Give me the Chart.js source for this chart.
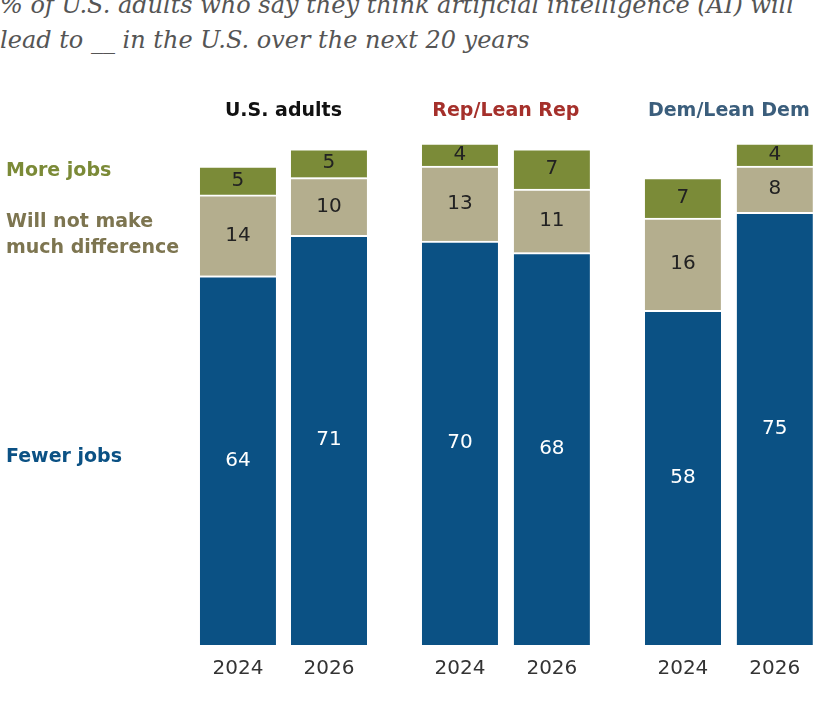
<!DOCTYPE html>
<html>
<head>
<meta charset="utf-8">
<script src="https://cdn.jsdelivr.net/npm/chart.js@4"></script>
<style>
  body { margin: 0; background: #fff; width: 840px; height: 720px; overflow: hidden; position: relative; }
  #title { position: absolute; left: 0; top: -12px; font: italic 24px "DejaVu Serif", "Liberation Serif", serif; color: #555; line-height: 35px; white-space: nowrap; }
  canvas { position: absolute; left: 0; top: 0; }
</style>
</head>
<body>
<div id="title">% of U.S. adults who say they think artificial intelligence (AI) will<br>lead to __ in the U.S. over the next 20 years</div>
<canvas id="chart" width="840" height="720"></canvas>
<script>
const years = ["2024", "2026", "2024", "2026", "2024", "2026"];
const groups = ["U.S. adults", "Rep/Lean Rep", "Dem/Lean Dem"];
const groupColors = ["#111111", "#a5302b", "#3b5e7c"];
const xPos = [0, 1, 2.44, 3.45, 4.89, 5.9];
const fewerJobs = [64, 71, 70, 68, 58, 75];
const noDifference = [14, 10, 13, 11, 16, 8];
const moreJobs = [5, 5, 4, 7, 7, 4];

const toPoints = (arr) => arr.map((v, i) => ({ x: xPos[i], y: v }));

const labelPlugin = {
  id: "labels",
  afterDatasetsDraw(chart) {
    const ctx = chart.ctx;
    ctx.save();
    ctx.textAlign = "center";
    ctx.textBaseline = "middle";
    ctx.font = "20px 'DejaVu Sans', sans-serif";
    chart.data.datasets.forEach((ds, di) => {
      chart.getDatasetMeta(di).data.forEach((bar, i) => {
        ctx.fillStyle = di === 0 ? "#ffffff" : "#222222";
        ctx.fillText(ds.data[i].y, bar.x, (bar.y + bar.base) / 2);
      });
    });
    const xs = chart.scales.x;
    const bottom = chart.chartArea.bottom;
    ctx.fillStyle = "#333";
    years.forEach((y, i) => ctx.fillText(y, xs.getPixelForValue(xPos[i]), bottom + 24));
    ctx.font = "bold 19px 'DejaVu Sans', sans-serif";
    groups.forEach((g, k) => {
      const cx = (xs.getPixelForValue(xPos[2 * k]) + xs.getPixelForValue(xPos[2 * k + 1])) / 2;
      ctx.fillStyle = groupColors[k];
      ctx.fillText(g, cx, 111);
    });
    ctx.textAlign = "left";
    ctx.fillStyle = "#7b8a37";
    ctx.fillText("More jobs", 6, 171);
    ctx.fillStyle = "#7d7550";
    ctx.fillText("Will not make", 6, 222);
    ctx.fillText("much difference", 6, 248);
    ctx.fillStyle = "#0b5184";
    ctx.fillText("Fewer jobs", 6, 457);
    ctx.restore();
  },
};

new Chart(document.getElementById("chart"), {
  type: "bar",
  data: {
    datasets: [
      { label: "Fewer jobs", data: toPoints(fewerJobs), backgroundColor: "#0b5184" },
      { label: "Will not make much difference", data: toPoints(noDifference), backgroundColor: "#b4ae8e" },
      { label: "More jobs", data: toPoints(moreJobs), backgroundColor: "#7b8b38" },
    ].map((d) => ({ ...d, borderColor: "#ffffff", borderWidth: { top: 2 }, borderSkipped: "bottom", barThickness: 76 })),
  },
  options: {
    responsive: false,
    animation: false,
    layout: { padding: { left: 190, right: 17, top: 68, bottom: 75 } },
    scales: {
      x: { type: "linear", stacked: true, offset: false, min: -0.527, max: 6.43, display: false },
      y: { stacked: true, min: 0, max: 100, display: false },
    },
    plugins: { legend: { display: false }, tooltip: { enabled: false } },
  },
  plugins: [labelPlugin],
});
</script>
</body>
</html>
